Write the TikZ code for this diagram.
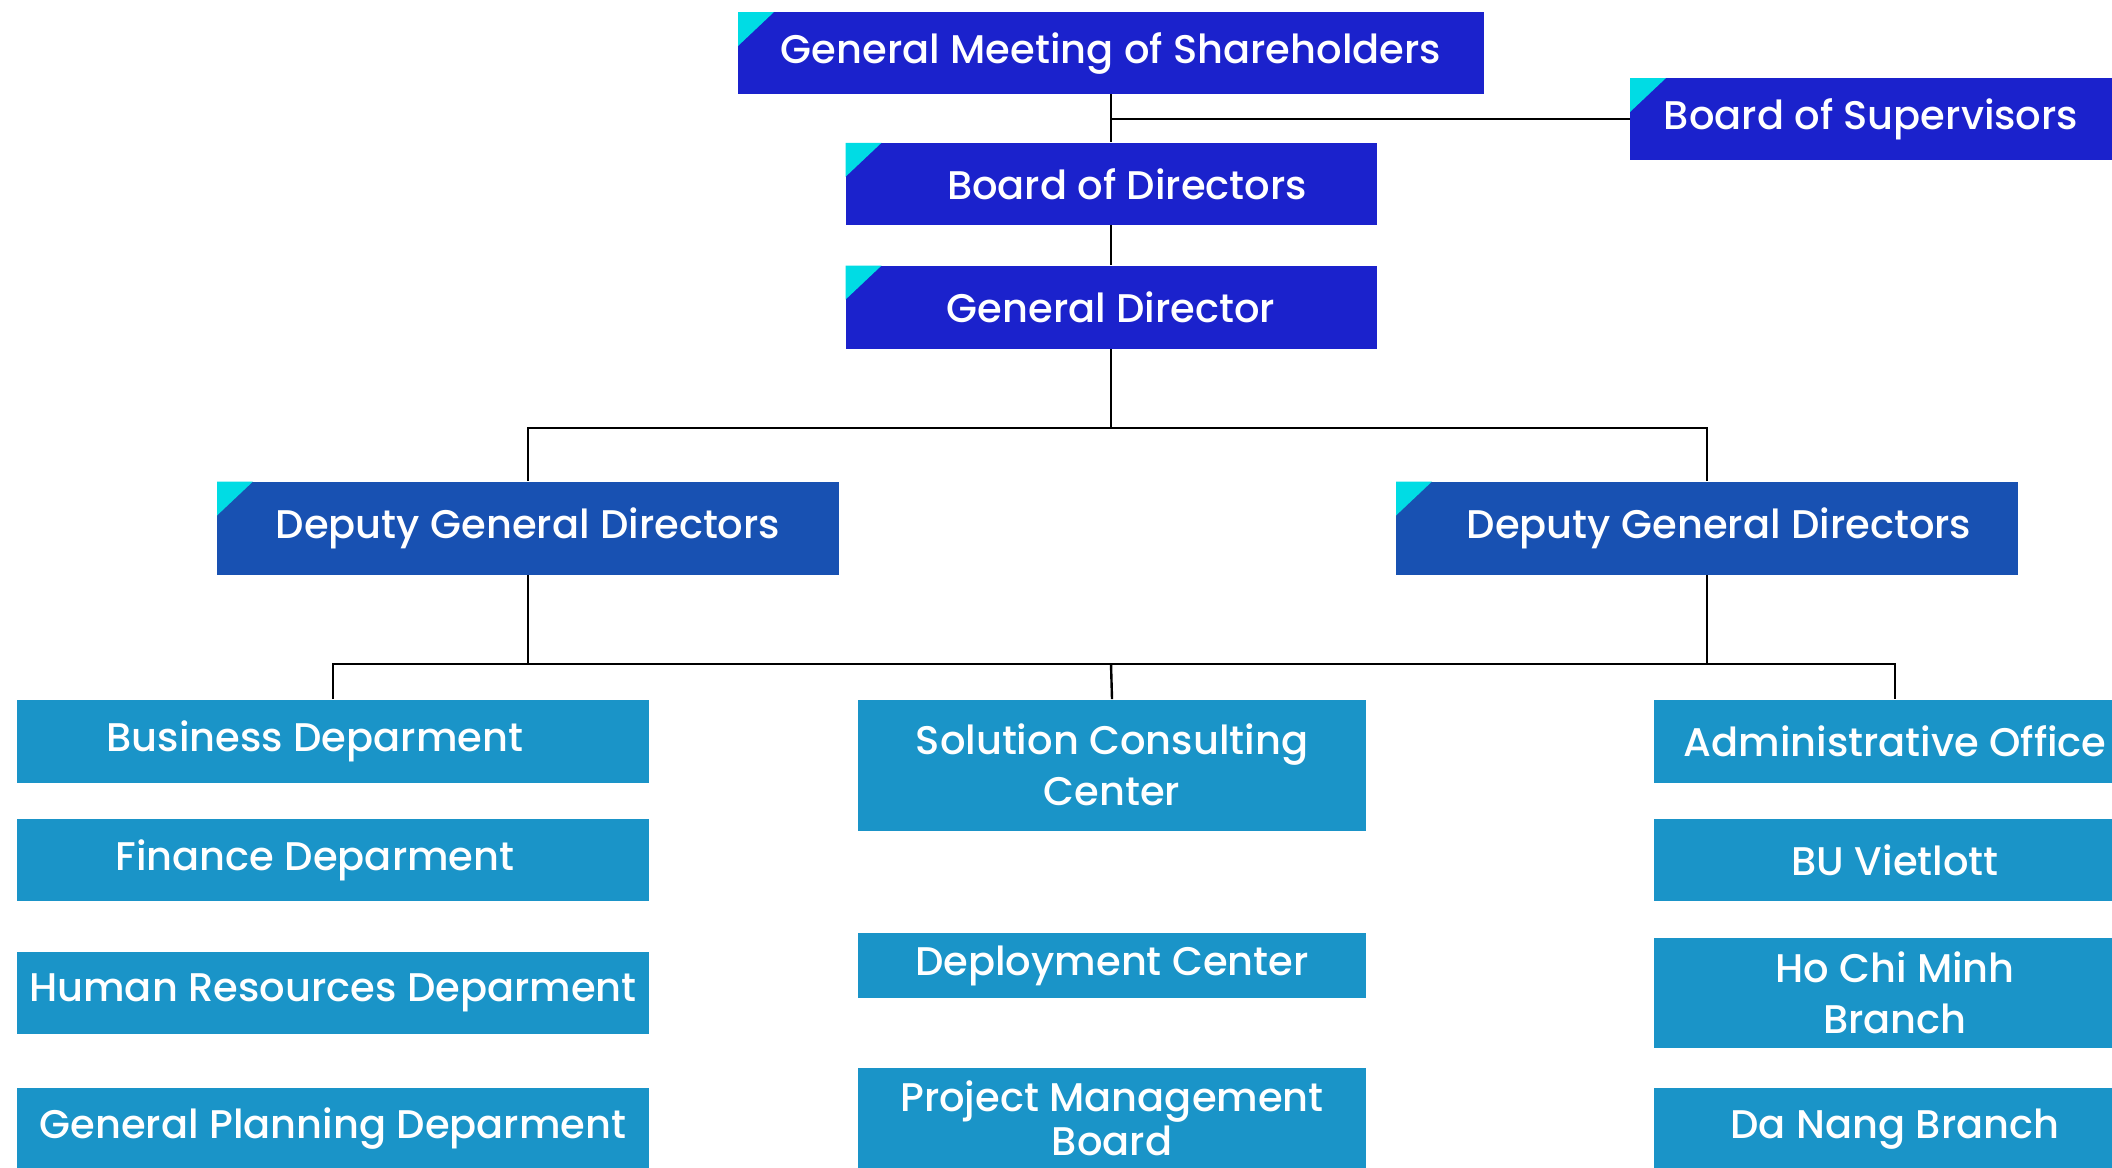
\documentclass[tikz,border=0pt]{standalone}
\usepackage{fontspec}
\setmainfont{Poppins}[UprightFont=* Medium]
\usepackage{tikz}
\usetikzlibrary{positioning}

\definecolor{topblue}{HTML}{1B22CC}
\definecolor{deputyblue}{HTML}{1851B2}
\definecolor{unitblue}{HTML}{1A94C8}
\definecolor{tipcyan}{HTML}{00DCE4}

\tikzset{
  unit/.style={rectangle,fill=unitblue,text=white,inner sep=0pt,align=center,
    font=\fontsize{20}{25.5}\selectfont},
  head/.style={unit,fill=topblue,
    path picture={\fill [tipcyan] (path picture bounding box.north west)
      -- ++(36,0) -- ++(-36,34) -- cycle;}},
  deputy/.style={head,fill=deputyblue},
  link/.style={line width=1.2pt,black}
}

\begin{document}
\begin{tikzpicture}[x=0.5pt,y=-0.5pt]

  \useasboundingbox (0,0) rectangle (2112,1167);

  % Shareholders, directors
  \node [head,minimum width=373pt,minimum height=41pt] (gms) at (1111,53) {General Meeting of Shareholders};
  \node [head,minimum width=241pt,minimum height=41pt] (sup) at (1871,119) {Board of Supervisors};
  \node [head,minimum width=265.5pt,minimum height=41pt,below=24pt of gms] (bod) {\hspace*{16pt}Board of Directors};
  \node [head,minimum width=265.5pt,minimum height=41.5pt,below=20pt of bod] (gd) {General Director};

  % Deputies
  \node [deputy,minimum width=311pt,minimum height=46.5pt] (dgdl) at (528,528) {Deputy General Directors};
  \node [deputy,minimum width=311pt,minimum height=46.5pt] (dgdr) at (1707,528) {\hspace*{12pt}Deputy General Directors};

  % Left column
  \node [unit,minimum width=316pt,minimum height=41.5pt] (business) at (333,741) {Business Deparment\hspace*{18pt}};
  \node [unit,minimum width=316pt,minimum height=41pt,below=18pt of business] (finance) {Finance Deparment\hspace*{18pt}};
  \node [unit,minimum width=316pt,minimum height=41pt,below=25pt of finance] (hr) {Human Resources Deparment};
  \node [unit,minimum width=316pt,minimum height=41pt,below=26.5pt of hr] (planning) {General Planning Deparment};

  % Middle column
  \node [unit,minimum width=254pt,minimum height=65.5pt] (solution) at (1112,765) {Solution Consulting\\Center};
  \node [unit,minimum width=254pt,minimum height=32.5pt,below=51pt of solution] (deploy) {Deployment Center};
  \node [unit,minimum width=254pt,minimum height=50pt,below=34.5pt of deploy,
    font=\fontsize{20}{22}\selectfont] (pmb) {Project Management\\Board};

  % Right column
  \node [unit,minimum width=241pt,minimum height=41.5pt] (admin) at (1895,741) {Administrative Office};
  \node [unit,minimum width=241pt,minimum height=41pt,below=18pt of admin] (vietlott) {BU Vietlott};
  \node [unit,minimum width=241pt,minimum height=55pt,below=18pt of vietlott] (hcm) {Ho Chi Minh\\Branch};
  \node [unit,minimum width=241pt,minimum height=41pt,below=19.5pt of hcm] (danang) {Da Nang Branch};

  % Buses
  \coordinate (busa) at (1111,428);
  \coordinate (busb) at (1111,664);

  \draw [link] (gms.south) -- (bod.north);
  \draw [link] (gms.south |- sup.west) -- (sup.west);
  \draw [link] (bod.south) -- (gd.north);
  \draw [link] (gd.south) -- (busa);
  \draw [link] (dgdl.north) |- (busa) -| (dgdr.north);
  \draw [link] (dgdl.south) -- (dgdl.south |- busb);
  \draw [link] (dgdr.south) -- (dgdr.south |- busb);
  \draw [link] (business.north) |- (busb) -| (admin.north);
  \draw [link] (busb) -- (solution.north);

\end{tikzpicture}
\end{document}
